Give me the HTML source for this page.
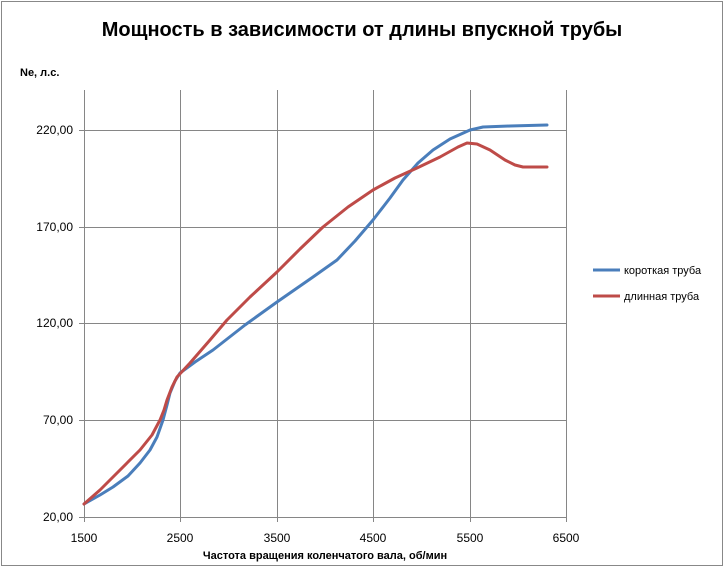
<!DOCTYPE html>
<html><head><meta charset="utf-8"><style>
body{margin:0;background:#fff}
svg{display:block;font-family:"Liberation Sans",sans-serif}
</style></head><body>
<svg width="725" height="569" viewBox="0 0 725 569">
<rect x="1.5" y="1.5" width="721" height="564" fill="#fff" stroke="#888"/>
<text x="362" y="36" text-anchor="middle" font-size="20" font-weight="bold">Мощность в зависимости от длины впускной трубы</text>
<text x="20" y="76" font-size="11" font-weight="bold">Ne, л.с.</text>
<g stroke="#868686" stroke-width="1">
<line x1="84" y1="130.5" x2="566" y2="130.5"/>
<line x1="84" y1="227.5" x2="566" y2="227.5"/>
<line x1="84" y1="323.5" x2="566" y2="323.5"/>
<line x1="84" y1="420.5" x2="566" y2="420.5"/>
<line x1="79" y1="517.5" x2="566" y2="517.5"/>
<line x1="84.5" y1="90" x2="84.5" y2="522"/>
<line x1="180.5" y1="90" x2="180.5" y2="522"/>
<line x1="277.5" y1="90" x2="277.5" y2="522"/>
<line x1="373.5" y1="90" x2="373.5" y2="522"/>
<line x1="470.5" y1="90" x2="470.5" y2="522"/>
<line x1="566.5" y1="90" x2="566.5" y2="522"/>
<line x1="79" y1="130.5" x2="84" y2="130.5"/><line x1="79" y1="227.5" x2="84" y2="227.5"/><line x1="79" y1="323.5" x2="84" y2="323.5"/><line x1="79" y1="420.5" x2="84" y2="420.5"/>
</g>
<g font-size="12" text-anchor="end">
<text x="73" y="134">220,00</text><text x="73" y="231">170,00</text><text x="73" y="327">120,00</text><text x="73" y="424">70,00</text><text x="73" y="521">20,00</text>
</g>
<g font-size="12" text-anchor="middle">
<text x="84" y="542">1500</text><text x="180" y="542">2500</text><text x="277" y="542">3500</text><text x="373" y="542">4500</text><text x="470" y="542">5500</text><text x="566" y="542">6500</text>
</g>
<text x="325" y="559" text-anchor="middle" font-size="11" font-weight="bold">Частота вращения коленчатого вала, об/мин</text>
<polyline points="84,504 100,495 113,487 128,476 140,463 150,450 157,437 163,420 167,405 170,393 175,381 180,373 195,362 213,350 245,325 277,302 313,277 337,260 355,241 373,220 390,198 403,180 418,163 433,150 450,139 470,130 483,127 510,126 547,125" fill="none" stroke="#4a7ebb" stroke-width="3" stroke-linejoin="round" stroke-linecap="round"/>
<polyline points="84,504 100,490 113,477 127,463 140,450 152,435 160,420 164,410 167,400 172,387 177,377 190,363 210,340 227,320 250,297 277,272 300,249 323,227 348,207 373,190 395,178 417,168 440,157 458,147 467,143 477,144 490,150 505,160 515,165 523,167 535,167 547,167" fill="none" stroke="#be4b48" stroke-width="3" stroke-linejoin="round" stroke-linecap="round"/>
<line x1="593" y1="270" x2="620" y2="270" stroke="#4a7ebb" stroke-width="3"/>
<text x="624" y="274" font-size="11">короткая труба</text>
<line x1="593" y1="296" x2="620" y2="296" stroke="#be4b48" stroke-width="3"/>
<text x="624" y="300" font-size="11">длинная труба</text>
</svg>
</body></html>
